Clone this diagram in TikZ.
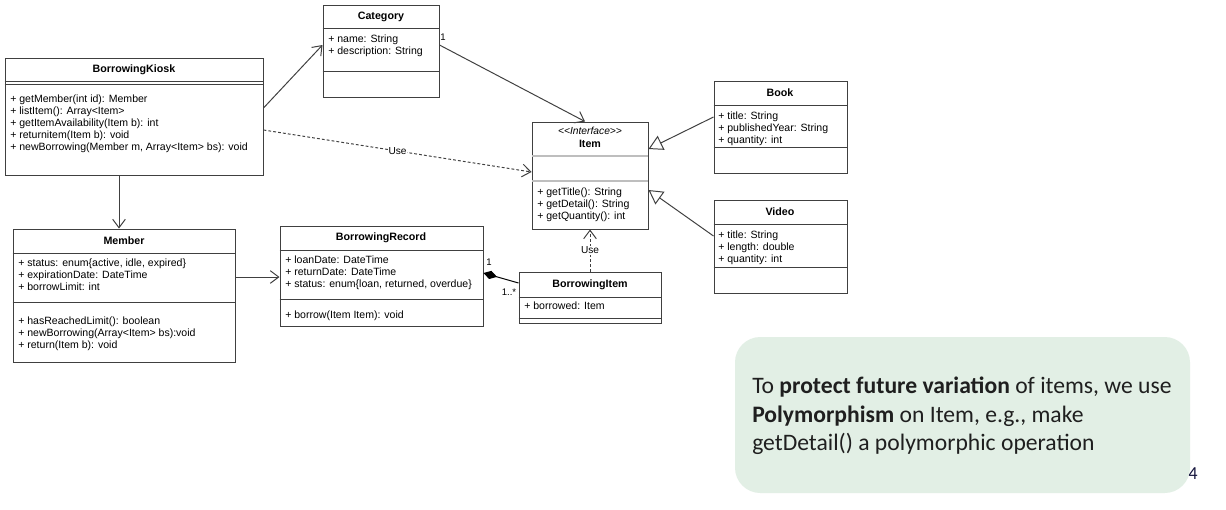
\documentclass[tikz,border=0pt]{standalone}
\usepackage{fontspec}
\setmainfont{Liberation Sans}
\newfontfamily\notefont{Carlito}
\usetikzlibrary{arrows.meta,fit}
\definecolor{linegray}{RGB}{64,64,64}
\definecolor{sepgray}{RGB}{190,190,190}
\definecolor{notegreen}{RGB}{226,239,229}
\definecolor{inkblue}{RGB}{20,20,60}

\tikzset{
  umlbox/.style={draw=linegray, line width=0.7pt, inner sep=0pt},
  umltitle/.style={font=\bfseries\fontsize{7.6}{8.5}\selectfont, inner sep=0pt},
  umltext/.style={anchor=north west, align=left, inner sep=0pt, font=\fontsize{7.5}{8.5}\selectfont},
  sepline/.style={draw=linegray, line width=0.7pt},
  assoc/.style={draw=linegray, line width=0.7pt, -{Straight Barb[length=6pt,width=9pt]}},
  usedep/.style={assoc, dash pattern=on 2pt off 1.5pt},
  realize/.style={draw=linegray, line width=0.7pt, -{Triangle[open,length=10pt,width=11pt,fill=white]}},
  compos/.style={draw=black, line width=0.7pt, -{Diamond[length=10pt,width=6pt]}},
  uselabel/.style={fill=white, inner sep=0.6pt, font=\fontsize{7.2}{8}\selectfont},
  mult/.style={font=\fontsize{6.8}{7}\selectfont, inner sep=0pt},
  note/.style={fill=notegreen, rounded corners=18pt, inner sep=0pt},
}

\begin{document}
\begin{tikzpicture}[x=0.025cm, y=-0.025cm]
\useasboundingbox (0,0) rectangle (1226,509);
\fill[white] (0,0) rectangle (1226,509);

% BorrowingKiosk
\node[umlbox, fit={(5,58) (263,175)}] (kiosk) {};
\node[umltitle] (kiosktitle) at (134,69.5) {BorrowingKiosk};
\draw[sepline] (kiosk.west |- 0,81) -- (kiosk.east |- 0,81);
\draw[sepline] (kiosk.west |- 0,84) -- (kiosk.east |- 0,84);
\node[umltext] (kioskops) at (10,94.5) {+ getMember(int id): Member\\+ listItem(): Array<Item>\\+ getItemAvailability(Item b): int\\+ returnitem(Item b): void\\+ newBorrowing(Member m, Array<Item> bs): void};

% Category
\node[umlbox, fit={(323,5) (439,97)}] (cat) {};
\node[umltitle] (cattitle) at (381,16.5) {Category};
\draw[sepline] (cat.west |- 0,28) -- (cat.east |- 0,28);
\draw[sepline] (cat.west |- 0,71) -- (cat.east |- 0,71);
\node[umltext] (catattr) at (328,34.5) {+ name: String\\+ description: String};

% Item (interface)
\node[umlbox, fit={(532,122) (648,229)}] (item) {};
\node[font=\itshape\fontsize{7.3}{8}\selectfont, inner sep=0pt] (itemstereo) at (590,131) {{<}{<}Interface{>}{>}};
\node[umltitle] (itemtitle) at (590,143.5) {Item};
\draw[draw=sepgray, line width=1.4pt] (item.west |- 0,156) -- (item.east |- 0,156);
\draw[draw=sepgray, line width=1.4pt] (item.west |- 0,181) -- (item.east |- 0,181);
\node[umltext] (itemops) at (537,187.5) {+ getTitle(): String\\+ getDetail(): String\\+ getQuantity(): int};

% Book
\node[umlbox, fit={(714,81) (847,173)}] (book) {};
\node[umltitle] (booktitle) at (780,93) {Book};
\draw[sepline] (book.west |- 0,105) -- (book.east |- 0,105);
\draw[sepline] (book.west |- 0,147) -- (book.east |- 0,147);
\node[umltext] (bookattr) at (718,111.5) {+ title: String\\+ publishedYear: String\\+ quantity: int};

% Video
\node[umlbox, fit={(714,200) (847,293)}] (video) {};
\node[umltitle] (videotitle) at (780,212) {Video};
\draw[sepline] (video.west |- 0,224) -- (video.east |- 0,224);
\draw[sepline] (video.west |- 0,267) -- (video.east |- 0,267);
\node[umltext] (videoattr) at (718,230.5) {+ title: String\\+ length: double\\+ quantity: int};

% Member
\node[umlbox, fit={(13,229) (235,362)}] (member) {};
\node[umltitle] (membertitle) at (124,240.5) {Member};
\draw[sepline] (member.west |- 0,253) -- (member.east |- 0,253);
\draw[sepline] (member.west |- 0,302) -- (member.east |- 0,302);
\node[umltext] (memberattr) at (18,258.5) {+ status: enum\{active, idle, expired\}\\+ expirationDate: DateTime\\+ borrowLimit: int};
\node[umltext] (memberops) at (18,316.5) {+ hasReachedLimit(): boolean\\+ newBorrowing(Array<Item> bs):void\\+ return(Item b): void};

% BorrowingRecord
\node[umlbox, fit={(280,226) (483,326)}] (record) {};
\node[umltitle] (recordtitle) at (381,238) {BorrowingRecord};
\draw[sepline] (record.west |- 0,250) -- (record.east |- 0,250);
\draw[sepline] (record.west |- 0,299) -- (record.east |- 0,299);
\node[umltext] (recordattr) at (285,255.5) {+ loanDate: DateTime\\+ returnDate: DateTime\\+ status: enum\{loan, returned, overdue\}};
\node[umltext] (recordops) at (285,310.5) {+ borrow(Item Item): void};

% BorrowingItem
\node[umlbox, fit={(519,272) (661,323)}] (bitem) {};
\node[umltitle] (bitemtitle) at (590,284.5) {BorrowingItem};
\draw[sepline] (bitem.west |- 0,297) -- (bitem.east |- 0,297);
\draw[sepline] (bitem.west |- 0,318) -- (bitem.east |- 0,318);
\node[umltext] (bitemattr) at (524,301.5) {+ borrowed: Item};

% connectors
\draw[assoc] (kiosk.east |- 0,108) -- (cat.west |- 0,45);
\draw[assoc] (cat.east |- 0,45) -- (item.north -| 585,0);
\node[mult] (catmult) at (443,37) {1};
\draw[usedep] (kiosk.east |- 0,130) -- node[uselabel] (usekiosk) {Use} (item.west |- 0,172);
\draw[assoc] (kiosk.south -| 119,0) -- (member.north -| 119,0);
\draw[assoc] (member.east |- 0,277) -- (record.west |- 0,277);
\draw[realize] (book.west |- 0,117) -- (item.east |- 0,149);
\draw[realize] (video.west |- 0,236) -- (item.east |- 0,190);
\draw[usedep] (bitem.north) -- node[uselabel] (usebitem) {Use} (item.south);
\draw[compos] (bitem.west |- 0,283) -- (record.east |- 0,273);
\node[mult] (recordmult) at (489,262) {1};
\node[mult] (bitemmult) at (509,292) {1..*};

% note
\node[anchor=east, inner sep=0pt, font=\notefont\fontsize{13}{14}\selectfont, text=inkblue] (pagenum) at (1198,474) {44};
\node[note, fit={(735,337) (1190,493)}] (notebox) {};
\node[anchor=north west, align=left, inner sep=0pt, font=\notefont\fontsize{16.8}{20}\selectfont, text=black!88] (notetext) at (752,377) {To \textbf{protect future variation} of items, we use\\\textbf{Polymorphism} on Item, e.g., make\\getDetail() a polymorphic operation};
\end{tikzpicture}
\end{document}
